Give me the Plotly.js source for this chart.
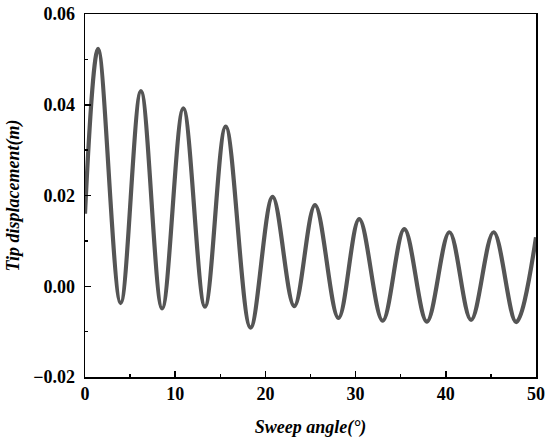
<!DOCTYPE html>
<html>
<head>
<meta charset="utf-8">
<script src="https://cdn.plot.ly/plotly-3.0.1.min.js"></script>
<style>html,body{margin:0;padding:0;background:#fff}#chart{width:550px;height:446px}</style>
</head>
<body>
<div id="chart"></div>
<script>
// Sweep angle (deg) at start, each peak/trough, and end
const sweepAngle = [0, 1.45, 3.95, 6.2, 8.55, 10.9, 13.3, 15.6, 18.35, 20.8, 23.2, 25.5, 28.1, 30.4, 33.0, 35.4, 37.9, 40.4, 42.8, 45.3, 47.8, 50];
// Tip displacement (m)
const tipDisplacement = [0.016, 0.0523, -0.0037, 0.0430, -0.0049, 0.0392, -0.0045, 0.0352, -0.0091, 0.0197, -0.0044, 0.0179, -0.0070, 0.0148, -0.0076, 0.0126, -0.0078, 0.0119, -0.0074, 0.0119, -0.0079, 0.0108];
const xTicks = [0, 10, 20, 30, 40, 50];
const yTicks = [-0.02, 0.00, 0.02, 0.04, 0.06];

const fontFam = '"Liberation Serif", "Times New Roman", serif';

const trace = {
  x: sweepAngle,
  y: tipDisplacement,
  type: 'scatter',
  mode: 'lines',
  line: {color: '#555555', width: 4.2, shape: 'spline', smoothing: 1},
  hoverinfo: 'skip'
};

const axisCommon = {
  showline: true,
  linecolor: '#000',
  linewidth: 1.5,
  mirror: true,
  ticks: 'inside',
  ticklen: 6,
  tickwidth: 1.5,
  tickcolor: '#000',
  showgrid: false,
  zeroline: false,
  tickfont: {family: fontFam, size: 18, color: '#000', weight: 'bold'}
};

const layout = {
  width: 550,
  height: 446,
  margin: {l: 85, r: 14, t: 14, b: 69},
  paper_bgcolor: '#fff',
  plot_bgcolor: '#fff',
  showlegend: false,
  xaxis: Object.assign({}, axisCommon, {
    range: [0, 50],
    tickvals: xTicks,
    ticktext: xTicks.map(String),
    minor: {ticks: 'inside', ticklen: 3, tickwidth: 1.5, tickcolor: '#000', dtick: 5},
    title: {text: 'Sweep angle(°)', font: {family: fontFam, size: 18, color: '#000', weight: 'bold', style: 'italic'}, standoff: 17}
  }),
  yaxis: Object.assign({}, axisCommon, {
    range: [-0.02, 0.06],
    tickvals: yTicks,
    tickformat: '.2f',
    ticklabelstandoff: 5,
    minor: {ticks: 'inside', ticklen: 3, tickwidth: 1.5, tickcolor: '#000', dtick: 0.01},
    title: {text: 'Tip displacement(m)', font: {family: fontFam, size: 18, color: '#000', weight: 'bold', style: 'italic'}, standoff: 9}
  })
};

Plotly.newPlot('chart', [trace], layout, {staticPlot: true, displayModeBar: false});
</script>
</body>
</html>
